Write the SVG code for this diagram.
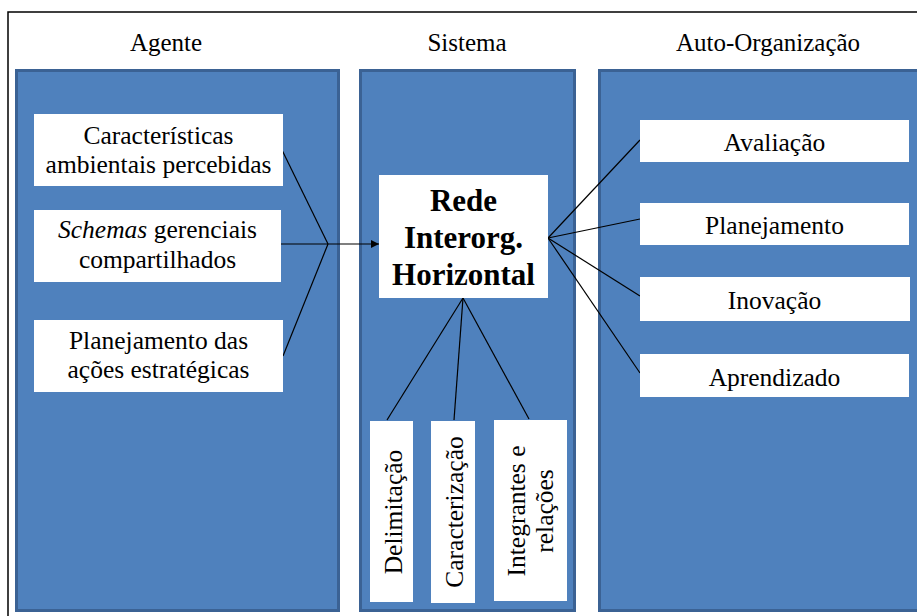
<svg xmlns="http://www.w3.org/2000/svg" width="917" height="616" viewBox="0 0 917 616">
  <style>
    .panel { fill: #4F81BD; stroke: #3B6294; stroke-width: 3; }
    .box { fill: #FFFFFF; }
    text { font-family: 'Liberation Serif', 'Times New Roman', Times, serif; fill: #000; text-anchor: middle; }
    .txt { font-size: 25.5px; }
    .hdr { font-size: 25px; }
    .bold { font-size: 31px; font-weight: bold; }
    .link { stroke: #000; stroke-width: 1.2; fill: none; }
  </style>
  <defs>
    <marker id="arrow" viewBox="0 0 10 10" refX="10" refY="5" markerWidth="8" markerHeight="8" markerUnits="userSpaceOnUse" orient="auto">
      <path d="M0,0 L10,5 L0,10 Z" fill="#000"/>
    </marker>
  </defs>

  <rect width="917" height="616" fill="#FFFFFF"/>

  <!-- outer frame -->
  <path d="M8,616 V12 H917" fill="none" stroke="#000" stroke-width="1.5"/>

  <!-- column headers -->
  <text class="hdr" x="166" y="51">Agente</text>
  <text class="hdr" x="467" y="51">Sistema</text>
  <text class="hdr" x="768" y="51">Auto-Organização</text>

  <!-- column panels -->
  <g id="panel-agente"><rect class="panel" x="16.5" y="70.5" width="322" height="540"/></g>
  <g id="panel-sistema"><rect class="panel" x="360.5" y="70.5" width="214" height="540"/></g>
  <g id="panel-auto"><rect class="panel" x="599.5" y="70.5" width="330" height="540"/></g>

  <!-- connectors -->
  <g id="connectors">
    <line class="link" x1="282" y1="150" x2="328" y2="244"/>
    <line class="link" x1="283" y1="356" x2="328" y2="244"/>
    <line class="link" x1="281" y1="244" x2="328" y2="244"/>
    <line class="link" x1="328" y1="244" x2="379" y2="244" marker-end="url(#arrow)"/>

    <line class="link" x1="548" y1="238" x2="640" y2="140"/>
    <line class="link" x1="548" y1="238" x2="640" y2="219"/>
    <line class="link" x1="548" y1="238" x2="640" y2="296"/>
    <line class="link" x1="548" y1="238" x2="640" y2="373"/>

    <line class="link" x1="463" y1="298" x2="387" y2="420"/>
    <line class="link" x1="463" y1="298" x2="454" y2="420"/>
    <line class="link" x1="463" y1="298" x2="529" y2="419"/>
  </g>

  <!-- Agente -->
  <g id="caracteristicas">
    <rect class="box" x="34" y="114" width="249" height="72"/>
    <text class="txt" x="158.5" y="144">Características</text>
    <text class="txt" x="158.5" y="173">ambientais percebidas</text>
  </g>
  <g id="schemas">
    <rect class="box" x="34" y="210" width="247" height="72"/>
    <text class="txt" x="157.5" y="238"><tspan font-style="italic">Schemas</tspan> gerenciais</text>
    <text class="txt" x="157.5" y="268">compartilhados</text>
  </g>
  <g id="planejamento-acoes">
    <rect class="box" x="34" y="320" width="249" height="72"/>
    <text class="txt" x="158.5" y="349">Planejamento das</text>
    <text class="txt" x="158.5" y="378">ações estratégicas</text>
  </g>

  <!-- Sistema -->
  <g id="rede">
    <rect class="box" x="379" y="175" width="169" height="123"/>
    <text class="bold" x="463.5" y="211">Rede</text>
    <text class="bold" x="463.5" y="248">Interorg.</text>
    <text class="bold" x="463.5" y="285">Horizontal</text>
  </g>
  <g id="delimitacao">
    <rect class="box" x="370" y="421" width="43" height="181"/>
    <text class="txt" transform="translate(402,512) rotate(-90)">Delimitação</text>
  </g>
  <g id="caracterizacao">
    <rect class="box" x="431" y="421" width="44" height="182"/>
    <text class="txt" transform="translate(463,512) rotate(-90)">Caracterização</text>
  </g>
  <g id="integrantes">
    <rect class="box" x="494" y="420" width="73" height="181"/>
    <text class="txt" transform="translate(525,511) rotate(-90)">Integrantes e</text>
    <text class="txt" transform="translate(553,511) rotate(-90)">relações</text>
  </g>

  <!-- Auto-Organização -->
  <g id="avaliacao">
    <rect class="box" x="640" y="120" width="269" height="42"/>
    <text class="txt" x="774.5" y="151">Avaliação</text>
  </g>
  <g id="planejamento">
    <rect class="box" x="640" y="203" width="269" height="42"/>
    <text class="txt" x="774.5" y="234">Planejamento</text>
  </g>
  <g id="inovacao">
    <rect class="box" x="640" y="277" width="270" height="44"/>
    <text class="txt" x="774.5" y="309">Inovação</text>
  </g>
  <g id="aprendizado">
    <rect class="box" x="640" y="354" width="269" height="43"/>
    <text class="txt" x="774.5" y="386">Aprendizado</text>
  </g>
</svg>
